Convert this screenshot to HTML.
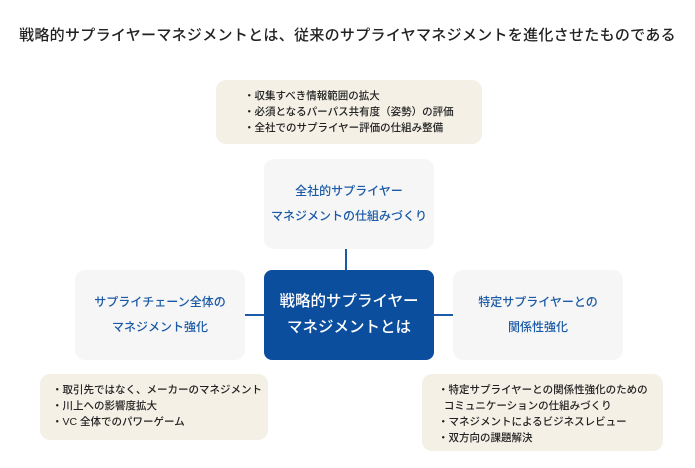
<!DOCTYPE html>
<html><head><meta charset="utf-8"><style>
body{margin:0;width:695px;height:468px;background:#fff;position:relative;overflow:hidden;font-family:"Liberation Sans","Noto Sans CJK JP",sans-serif;}
.a{position:absolute;box-sizing:border-box;}
.title{left:0;width:695px;top:24px;text-align:center;font-size:15px;letter-spacing:0.3px;color:#222;white-space:nowrap;font-weight:500;}
.note{background:#f4f0e6;border-radius:10px;font-size:10.5px;color:#222;line-height:16px;font-weight:500;}
.node{background:#f6f6f6;border-radius:10px;color:#1b5aa6;font-size:12px;line-height:25px;display:flex;align-items:center;justify-content:center;text-align:center;font-weight:500;}
.center{background:#0b4e9e;color:#fff;font-size:15.5px;line-height:26px;border-radius:8px;display:flex;align-items:center;justify-content:center;text-align:center;font-weight:500;}
.ln{background:#1b5aa6;}
</style></head><body>
<div class="a title">戦略的サプライヤーマネジメントとは、従来のサプライヤマネジメントを進化させたものである</div>

<div class="a note" style="left:216px;top:80px;width:266px;height:64px;padding:8px 0 0 28px;">・収集すべき情報範囲の拡大<br>・必須となるパーパス共有度（姿勢）の評価<br>・全社でのサプライヤー評価の仕組み整備</div>

<div class="a node" style="left:264px;top:159px;width:170px;height:90px;">全社的サプライヤー<br>マネジメントの仕組みづくり</div>
<div class="a ln" style="left:345px;top:249px;width:2px;height:21px;"></div>

<div class="a node" style="left:75px;top:270px;width:170px;height:90px;">サプライチェーン全体の<br>マネジメント強化</div>
<div class="a ln" style="left:245px;top:314px;width:19px;height:2px;"></div>
<div class="a center" style="left:264px;top:270px;width:170px;height:90px;">戦略的サプライヤー<br>マネジメントとは</div>
<div class="a ln" style="left:434px;top:314px;width:19px;height:2px;"></div>
<div class="a node" style="left:453px;top:270px;width:170px;height:90px;">特定サプライヤーとの<br>関係性強化</div>

<div class="a note" style="left:40px;top:374px;width:228px;height:66px;padding:8px 0 0 12px;">・取引先ではなく、メーカーのマネジメント<br>・川上への影響度拡大<br>・VC 全体でのパワーゲーム</div>

<div class="a note" style="left:422px;top:374px;width:241px;height:77px;padding:8px 0 0 16px;">・特定サプライヤーとの関係性強化のための<br>&nbsp;&nbsp;コミュニケーションの仕組みづくり<br>・マネジメントによるビジネスレビュー<br>・双方向の課題解決</div>
</body></html>
